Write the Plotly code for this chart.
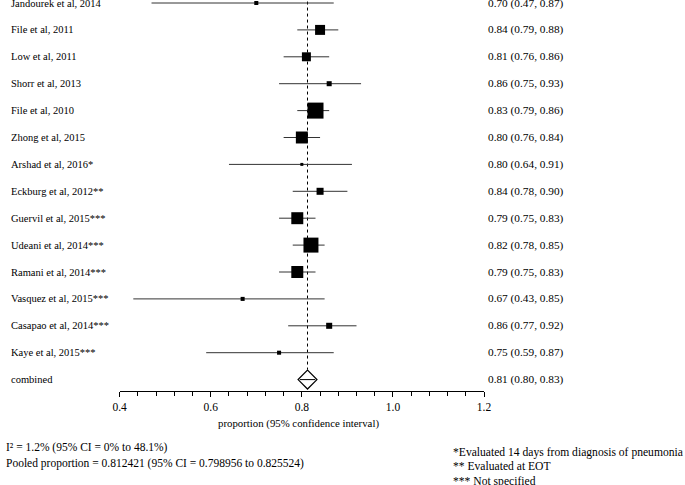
import plotly.graph_objects as go

# ---- data ----
studies = [
    "Jandourek et al, 2014", "File et al, 2011", "Low et al, 2011", "Shorr et al, 2013",
    "File et al, 2010", "Zhong et al, 2015", "Arshad et al, 2016*", "Eckburg et al, 2012**",
    "Guervil et al, 2015***", "Udeani et al, 2014***", "Ramani et al, 2014***",
    "Vasquez et al, 2015***", "Casapao et al, 2014***", "Kaye et al, 2015***",
]
est = [0.70, 0.84, 0.81, 0.86, 0.83, 0.80, 0.80, 0.84, 0.79, 0.82, 0.79, 0.67, 0.86, 0.75]
lo = [0.47, 0.79, 0.76, 0.75, 0.79, 0.76, 0.64, 0.78, 0.75, 0.78, 0.75, 0.43, 0.77, 0.59]
hi = [0.87, 0.88, 0.86, 0.93, 0.86, 0.84, 0.91, 0.90, 0.83, 0.85, 0.83, 0.85, 0.92, 0.87]
weights = [1.3, 7.9, 6.4, 2.0, 20.3, 11.4, 0.7, 3.9, 11.4, 17.8, 11.4, 1.3, 2.9, 1.3]  # % (estimated)
pooled, pooled_lo, pooled_hi = 0.812421, 0.798956, 0.825524
i2, i2_lo, i2_hi = 1.2, 0, 48.1
xticks = [0.4, 0.6, 0.8, 1.0, 1.2]
footnotes = ["*Evaluated 14 days from diagnosis of pneumonia", "** Evaluated at EOT", "*** Not specified"]

W, H = 685, 485
FONT = "Liberation Serif"
n = len(studies)
rows = list(range(n))
sizes = [3.55 * (w ** 0.5) for w in weights]

fig = go.Figure()

# study estimates with CI
fig.add_trace(go.Scatter(
    x=est, y=rows, mode="markers",
    marker=dict(symbol="square", size=sizes, color="black", opacity=1, line=dict(width=0)),
    error_x=dict(type="data", symmetric=False,
                 array=[h - e for h, e in zip(hi, est)],
                 arrayminus=[e - l for e, l in zip(est, lo)],
                 width=0, thickness=1, color="#333"),
    showlegend=False, hoverinfo="skip", cliponaxis=False,
))

# combined diamond
fig.add_trace(go.Scatter(
    x=[pooled], y=[n], mode="markers",
    marker=dict(symbol="diamond-open", size=14.5, color="black", line=dict(width=1.2, color="black")),
    showlegend=False, hoverinfo="skip", cliponaxis=False,
))
fig.add_trace(go.Scatter(
    x=[pooled], y=[n], mode="markers",
    marker=dict(symbol="line-ew", size=11, color="black", line=dict(width=1, color="black")),
    showlegend=False, hoverinfo="skip", cliponaxis=False,
))

# dotted pooled line
fig.add_shape(type="line", xref="x", yref="y", x0=pooled, x1=pooled, y0=-0.5, y1=n - 0.37,
              line=dict(color="black", width=1, dash="dot"), layer="below")

ann = []
for i, s in enumerate(studies + ["combined"]):
    ann.append(dict(xref="paper", yref="y", x=2 / W, y=i, text=s, showarrow=False,
                    xanchor="left", yanchor="middle", font=dict(family=FONT, size=10.5, color="black")))
vals = list(zip(est, lo, hi)) + [(pooled, pooled_lo, pooled_hi)]
for i, (e, l, h) in enumerate(vals):
    ann.append(dict(xref="paper", yref="y", x=489 / W, y=i, text=f"{e:.2f} ({l:.2f}, {h:.2f})",
                    showarrow=False, xanchor="left", yanchor="middle",
                    font=dict(family=FONT, size=11.3, color="black")))

ann.append(dict(xref="paper", yref="paper", x=298 / W, y=1 - 423 / H,
                text="proportion (95% confidence interval)", showarrow=False,
                xanchor="center", yanchor="middle", font=dict(family=FONT, size=10.8, color="black")))
ann.append(dict(xref="paper", yref="paper", x=0, xshift=-3, y=1 - 447 / H,
                text=f"I² = {i2}% (95% CI = {i2_lo}% to {i2_hi}%)", showarrow=False,
                xanchor="left", yanchor="middle", font=dict(family=FONT, size=11.5, color="black")))
ann.append(dict(xref="paper", yref="paper", x=0, xshift=-3, y=1 - 463 / H,
                text=f"Pooled proportion = {pooled} (95% CI = {pooled_lo} to {pooled_hi})",
                showarrow=False, xanchor="left", yanchor="middle",
                font=dict(family=FONT, size=11.5, color="black")))
for k, t in enumerate(footnotes):
    ann.append(dict(xref="paper", yref="paper", x=453 / W, y=1 - (452 + 14.5 * k) / H,
                    text=t, showarrow=False, xanchor="left", yanchor="middle",
                    font=dict(family=FONT, size=11.6, color="black")))

fig.update_layout(
    width=W, height=H, margin=dict(l=0, r=0, t=0, b=0),
    paper_bgcolor="white", plot_bgcolor="white",
    font=dict(family=FONT, size=10, color="black"),
    annotations=ann,
    xaxis=dict(domain=[115 / W, 487 / W], range=[0.4, 1.2], tickvals=xticks, tickformat=".1f",
               showline=True, linecolor="black", linewidth=1, ticks="outside", ticklen=5,
               tickcolor="black", tickwidth=1, showgrid=False, zeroline=False,
               tickfont=dict(family=FONT, size=11.5, color="black"),
               minor=dict(dtick=0.04, tick0=0.4, ticks="outside", ticklen=3.5, tickcolor="black",
                          showgrid=False),
               anchor="y", fixedrange=True),
    yaxis=dict(domain=[1 - 391 / H, 1], range=[(391 - 3) / 26.9, -3 / 26.9], visible=False,
               fixedrange=True),
)

fig.write_html("out.html", config={"displayModeBar": False},
               post_script="document.body.style.margin='0';document.body.style.overflow='hidden';")
